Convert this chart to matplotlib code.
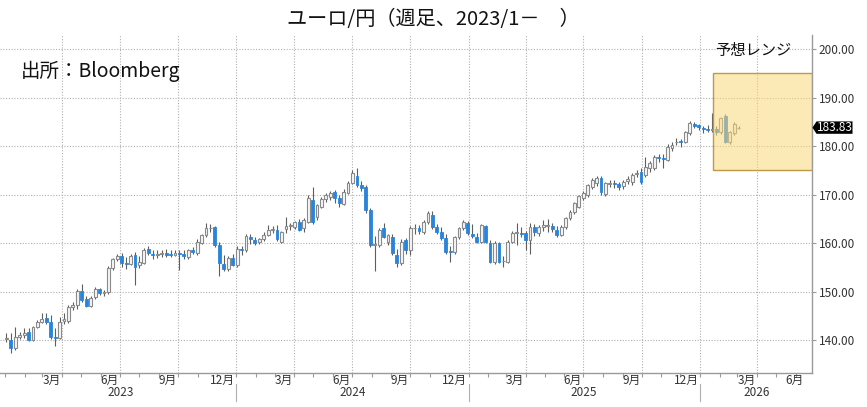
import matplotlib
matplotlib.use("Agg")
import matplotlib.pyplot as plt
import matplotlib.dates as mdates
import matplotlib.transforms as mtransforms
from matplotlib.patches import Rectangle, Polygon
import pandas as pd

plt.rcParams["font.family"] = ["Noto Sans CJK JP", "DejaVu Sans"]

# weekly EUR/JPY candles, first week starting 2023-01-03
first_week = "2023-01-03"

opens = [
    # 2023
    140.4, 140.1, 138.4, 140.7, 141.2, 141.8, 140.1, 142.7, 143.8, 144.7,
    143.7, 140.8, 140.6, 144.1, 144.0, 146.9, 147.2, 150.2, 148.5, 147.1,
    148.9, 150.5, 149.8, 149.9, 155.0, 156.8, 157.4, 155.9, 155.8, 157.6,
    155.5, 156.0, 158.8, 157.9, 157.6, 157.8, 158.0, 157.7, 157.6, 158.0,
    157.9, 157.2, 158.6, 158.0, 160.1, 161.7, 163.1, 163.3, 159.6, 155.7,
    154.7, 156.9,
    # 2024
    155.5, 158.7, 158.6, 161.3, 160.7, 160.3, 160.9, 161.8, 162.7, 162.8,
    160.3, 163.0, 163.5, 163.4, 164.4, 163.1, 164.4, 168.9, 165.4, 167.5,
    169.1, 169.5, 170.5, 169.3, 168.1, 170.4, 172.4, 173.8, 172.0, 171.5,
    166.8, 159.7, 159.6, 163.1, 160.3, 161.3, 157.6, 155.9, 160.7, 158.6,
    163.1, 163.1, 162.3, 164.4, 165.8, 163.3, 162.3, 161.1, 158.4, 158.2,
    161.3, 163.1,
    # 2025
    164.2, 161.9, 161.3, 160.3, 163.5, 160.0, 156.1, 160.0, 156.3, 156.1,
    160.3, 162.2, 162.2, 162.1, 160.7, 163.3, 162.1, 163.4, 163.6, 163.5,
    162.8, 161.7, 163.3, 165.2, 166.4, 167.5, 169.3, 169.9, 171.6, 172.4,
    173.4, 170.1, 172.3, 172.4, 172.2, 171.8, 172.9, 172.6, 174.3, 174.7,
    174.0, 175.5, 175.5, 177.7, 177.6, 177.1, 179.6, 180.8, 181.0, 180.9,
    182.7, 184.6,
    # 2026
    184.3, 183.8, 183.5, 183.4, 183.5, 182.9, 186.2, 180.8, 182.7, 183.7,
]
highs = [
    141.5, 141.5, 142.8, 141.8, 142.6, 142.5, 143.0, 144.2, 145.6, 145.7,
    145.2, 142.6, 144.8, 145.6, 147.2, 148.0, 150.5, 151.6, 149.2, 149.2,
    151.0, 150.9, 150.4, 155.3, 157.0, 157.8, 158.0, 157.2, 157.9, 158.3,
    157.3, 159.0, 159.4, 158.6, 158.7, 158.6, 158.8, 158.6, 158.6, 158.7,
    158.7, 158.8, 159.3, 160.9, 161.9, 164.2, 163.9, 163.6, 160.2, 157.6,
    157.3, 157.8,
    159.4, 159.5, 161.9, 161.9, 161.4, 161.2, 162.4, 163.7, 163.6, 163.7,
    162.6, 165.4, 164.2, 164.7, 165.0, 165.2, 170.0, 171.6, 168.2, 169.5,
    170.3, 170.8, 170.9, 169.9, 171.2, 172.8, 175.2, 175.5, 172.9, 172.1,
    167.3, 161.5, 163.2, 164.1, 161.9, 162.0, 158.8, 160.8, 161.0, 163.5,
    163.9, 163.8, 164.8, 166.7, 166.6, 164.0, 163.3, 161.9, 159.5, 161.5,
    163.4, 164.9,
    164.5, 163.9, 162.1, 164.0, 163.8, 160.6, 160.4, 160.3, 157.4, 160.6,
    162.5, 164.2, 163.4, 162.6, 164.2, 164.0, 163.8, 164.8, 165.0, 164.2,
    163.5, 163.8, 165.5, 166.8, 168.6, 170.0, 170.8, 172.3, 173.4, 173.9,
    173.8, 172.6, 173.0, 173.0, 172.7, 173.0, 173.9, 174.5, 175.0, 175.6,
    177.8, 177.0, 178.2, 178.4, 178.3, 180.4, 180.9, 181.6, 181.5, 183.2,
    185.1, 185.0,
    184.6, 184.2, 184.3, 186.8, 184.2, 186.0, 186.6, 183.2, 184.9, 184.2,
]
lows = [
    139.6, 137.5, 138.0, 140.2, 140.5, 139.8, 139.9, 142.5, 143.5, 143.4,
    140.3, 138.8, 140.3, 143.3, 143.6, 146.2, 146.5, 148.0, 146.8, 146.9,
    148.6, 149.4, 149.2, 149.6, 154.6, 156.3, 155.2, 154.8, 155.5, 151.4,
    155.0, 155.8, 157.6, 156.8, 157.0, 157.2, 157.1, 157.2, 157.3, 154.5,
    156.8, 156.8, 157.9, 157.7, 159.9, 161.4, 162.4, 159.3, 153.2, 154.4,
    154.4, 155.4,
    155.1, 157.7, 158.2, 159.8, 159.6, 159.8, 160.5, 161.6, 162.2, 160.5,
    160.0, 162.2, 162.8, 163.0, 162.5, 162.3, 164.2, 164.0, 164.8, 167.2,
    168.6, 169.0, 168.3, 167.5, 167.9, 170.2, 172.2, 171.5, 170.8, 166.3,
    159.3, 154.4, 159.2, 161.0, 159.7, 157.6, 155.2, 155.6, 157.8, 157.7,
    162.0, 161.9, 162.0, 163.9, 163.0, 161.9, 160.6, 157.9, 156.1, 157.9,
    160.9, 162.7,
    161.7, 161.0, 160.0, 160.1, 160.0, 155.9, 155.8, 155.9, 155.1, 155.9,
    160.0, 159.6, 161.3, 158.6, 157.8, 161.6, 161.6, 162.6, 162.4, 162.4,
    161.3, 161.5, 163.0, 164.9, 166.0, 167.2, 168.9, 169.5, 171.2, 171.8,
    170.0, 169.8, 171.5, 171.3, 170.9, 171.2, 172.3, 172.1, 173.6, 172.2,
    173.6, 174.6, 175.2, 176.8, 175.6, 176.9, 179.1, 180.2, 179.9, 180.6,
    182.4, 183.8,
    183.4, 182.8, 182.9, 182.9, 182.4, 182.5, 180.6, 180.4, 182.4, 183.5,
]
closes = [
    140.6, 138.4, 140.7, 141.2, 141.6, 140.1, 142.7, 143.7, 144.5, 143.9,
    140.8, 140.6, 143.9, 144.4, 146.9, 147.2, 150.2, 148.4, 147.1, 148.8,
    150.6, 149.8, 149.9, 155.0, 156.7, 157.3, 155.9, 155.8, 157.4, 155.1,
    156.2, 158.6, 158.0, 157.6, 157.8, 158.0, 157.7, 157.6, 158.0, 157.9,
    157.4, 158.6, 158.2, 160.3, 161.7, 163.1, 163.2, 159.6, 155.9, 154.7,
    156.9, 155.6,
    158.8, 158.6, 161.5, 160.8, 160.1, 160.9, 161.8, 162.7, 162.8, 160.8,
    162.3, 163.5, 163.7, 164.4, 162.7, 164.8, 169.3, 164.4, 167.9, 169.1,
    169.9, 170.4, 169.3, 168.3, 170.6, 172.5, 174.5, 172.0, 171.4, 166.8,
    159.6, 159.9, 162.7, 161.3, 161.7, 158.0, 155.9, 160.3, 158.6, 163.1,
    163.2, 162.5, 164.4, 166.2, 163.3, 162.3, 161.1, 158.2, 158.3, 161.3,
    163.1, 164.4,
    162.1, 161.5, 160.3, 163.7, 160.3, 156.1, 160.0, 156.1, 156.4, 160.3,
    162.1, 162.4, 162.0, 160.7, 163.3, 162.3, 163.3, 163.7, 163.8, 163.0,
    161.7, 163.3, 165.2, 166.4, 168.3, 169.7, 170.3, 172.0, 173.0, 173.4,
    170.5, 172.4, 172.4, 172.3, 171.6, 172.6, 173.2, 174.0, 174.5, 172.6,
    175.7, 176.5, 177.8, 177.6, 177.4, 179.8, 180.2, 180.9, 180.8, 182.9,
    184.8, 184.2,
    183.9, 183.6, 183.3, 183.6, 183.0, 185.8, 180.8, 182.9, 184.6, 183.83,
]

last_price = 183.83
range_low, range_high = 175, 195
range_start, range_end = "2026-01-22", "2026-06-26"

y_ticks = [140, 150, 160, 170, 180, 190, 200]
month_names = {3: "3月", 6: "6月", 9: "9月", 12: "12月"}
years = ["2023", "2024", "2025", "2026"]

W, H = 867, 407
fig = plt.figure(figsize=(W / 100, H / 100), dpi=100)
ax = fig.add_axes([0, 1 - 373 / H, 811.5 / W, (373 - 35) / H])

dates = pd.date_range(first_week, periods=len(closes), freq="7D")
x = mdates.date2num(dates)

up_edge = "#8a8a8a"
down_col = "#2a84da"
wick_col = "#5e5e5e"

for xi, o, h, l, c in zip(x, opens, highs, lows, closes):
    ax.vlines(xi, l, h, color=wick_col, lw=0.8, zorder=3)
    bottom = min(o, c)
    height = max(abs(c - o), 0.15)
    if c >= o:
        ax.bar(xi, height, bottom=bottom, width=4.5, color="#f7f7f7",
               edgecolor=up_edge, linewidth=0.8, zorder=4)
    else:
        ax.bar(xi, height, bottom=bottom, width=4.5, color=down_col,
               edgecolor=down_col, linewidth=0.6, zorder=4)

# forecast range box
x0 = mdates.date2num(pd.Timestamp(range_start))
x1 = mdates.date2num(pd.Timestamp(range_end))
ax.add_patch(Rectangle((x0, range_low), x1 - x0, range_high - range_low,
                       facecolor="#f9d77a", alpha=0.55, edgecolor="none", zorder=5))
ax.add_patch(Rectangle((x0, range_low), x1 - x0, range_high - range_low,
                       facecolor="none", edgecolor="#c09a45", lw=1.0, zorder=6))

ax.set_xlim(mdates.date2num(pd.Timestamp("2022-12-24")), x1)
ax.set_ylim(133.3, 202.9)

# grid
quarters = pd.date_range("2023-04-01", "2026-04-01", freq="3MS")
for q in quarters:
    ax.axvline(mdates.date2num(q), color="#b0b0b0", lw=0.8, ls=(0, (1, 1.5)), zorder=1)
for yt in y_ticks:
    ax.axhline(yt, color="#b0b0b0", lw=0.8, ls=(0, (1, 1.5)), zorder=1)

for s in ["top", "left"]:
    ax.spines[s].set_visible(False)
for s in ["right", "bottom"]:
    ax.spines[s].set_color("#9a9a9a")
    ax.spines[s].set_linewidth(1.0)

ax.yaxis.tick_right()
ax.set_yticks(y_ticks)
ax.set_yticklabels([f"{v:.2f}" for v in y_ticks])
ax.tick_params(axis="y", length=3, width=0.8, color="#9a9a9a", labelsize=8.5,
               labelcolor="#333333", pad=2)

months = pd.date_range("2023-01-01", "2026-06-01", freq="MS")
ax.set_xticks(mdates.date2num(months))
ax.set_xticklabels([])
ax.tick_params(axis="x", length=3, width=0.8, color="#9a9a9a")

trans = mtransforms.blended_transform_factory(ax.transData, ax.transAxes)
month_y = (373 - 380) / (373 - 35)
year_y = (373 - 393) / (373 - 35)
sep_top = (373 - 384) / (373 - 35)
sep_bot = (373 - 401) / (373 - 35)

for q in pd.date_range("2023-04-01", "2026-07-01", freq="3MS"):
    m = (q - pd.DateOffset(months=1)).month
    xq = mdates.date2num(q) - 2
    if q.year == 2026 and q.month == 7:
        xq = mdates.date2num(pd.Timestamp("2026-06-14"))
    ax.text(xq, month_y, month_names[m], transform=trans, ha="right", va="center",
            fontsize=8.5, color="#333333", clip_on=False)

year_centers = ["2023-07-02", "2024-07-02", "2025-07-02", "2026-04-01"]
for yl, yc in zip(years, year_centers):
    ax.text(mdates.date2num(pd.Timestamp(yc)), year_y, yl, transform=trans,
            ha="center", va="center", fontsize=8.5, color="#333333", clip_on=False)
for yb in ["2024-01-01", "2025-01-01", "2026-01-01"]:
    xb = mdates.date2num(pd.Timestamp(yb))
    ax.plot([xb, xb], [sep_top, sep_bot], transform=trans, color="#b0b0b0",
            lw=0.8, clip_on=False)

# texts
fig.text(433 / W, 1 - 20 / H, "ユーロ/円（週足、2023/1－　）", ha="center", va="center",
         fontsize=14.5, color="#111111")
fig.text(21 / W, 1 - 71 / H, "出所：Bloomberg", ha="left", va="center",
         fontsize=14, color="#111111")
fig.text(715 / W, 1 - 51 / H, "予想レンジ", ha="left", va="center",
         fontsize=11, color="#111111")

# last price tag
py = ax.transData.transform((0, last_price))[1]
py = H - py
tag = Polygon([(812.5 / W, 1 - py / H), (816.5 / W, 1 - (py - 6.2) / H),
               (852.5 / W, 1 - (py - 6.2) / H), (852.5 / W, 1 - (py + 6.2) / H),
               (816.5 / W, 1 - (py + 6.2) / H)], closed=True,
              facecolor="black", edgecolor="none", transform=fig.transFigure)
fig.add_artist(tag)
fig.text(834.5 / W, 1 - py / H, f"{last_price:.2f}", ha="center", va="center",
         fontsize=8.5, color="white")

fig.savefig("out.png", dpi=100)
